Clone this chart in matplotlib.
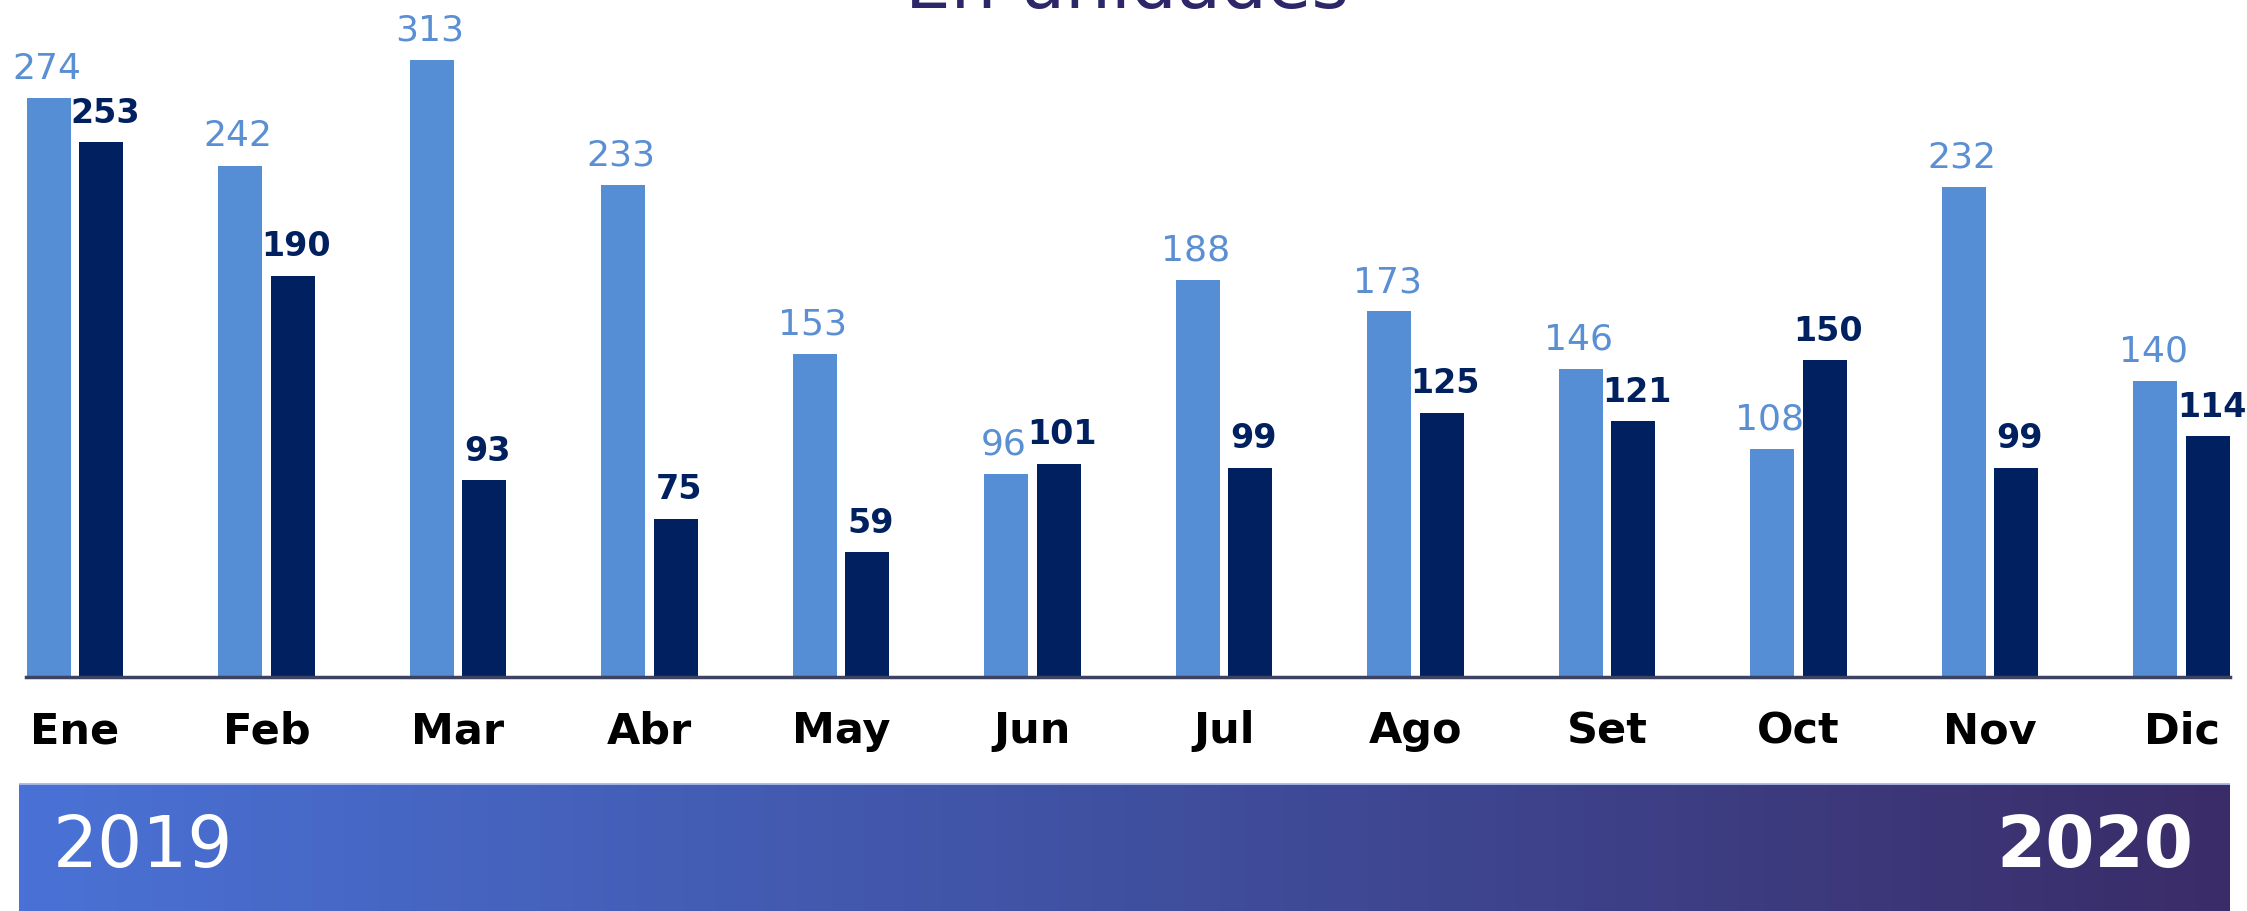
import numpy as np
import matplotlib
matplotlib.use('Agg')
import matplotlib.pyplot as plt

# data
months = ['Ene', 'Feb', 'Mar', 'Abr', 'May', 'Jun', 'Jul', 'Ago', 'Set', 'Oct', 'Nov', 'Dic']
v2019 = [274, 242, 313, 233, 153, 96, 188, 173, 146, 108, 232, 140]
v2020 = [253, 190, 93, 75, 59, 101, 99, 125, 121, 150, 99, 114]

light = '#558ed5'
dark = '#002060'
ymax = 292

W, H = 2247, 911
fig = plt.figure(figsize=(W / 100, H / 100), dpi=100)

# main bar axes
ax = fig.add_axes([26.5 / W, (H - 677) / H, (2230 - 26.5) / W, (677 - 60) / H])
x = np.arange(len(months))
bw = 0.23
off = 0.138
ax.bar(x - off, v2019, bw, color=light)
ax.bar(x + off, v2020, bw, color=dark)
ax.set_xlim(-off - bw / 2, len(months) - 1 + off + bw / 2)
ax.set_ylim(0, ymax)

for i in range(len(months)):
    ax.annotate(str(v2019[i]), (x[i] - off, min(v2019[i], ymax)),
                xytext=(-1.5, 14), textcoords='offset points',
                ha='center', va='baseline', fontsize=26, color='#5b8fd3')
    ax.annotate(str(v2020[i]), (x[i] + off, min(v2020[i], ymax)),
                xytext=(2.5, 14), textcoords='offset points',
                ha='center', va='baseline', fontsize=24, fontweight='heavy', color=dark)

for s in ['top', 'right', 'left']:
    ax.spines[s].set_visible(False)
ax.spines['bottom'].set_color('#3c4260')
ax.spines['bottom'].set_linewidth(2.5)
ax.set_yticks([])
ax.set_xticks(x)
ax.set_xticklabels(months, fontsize=31, fontweight='bold', color='black')
ax.tick_params(axis='x', length=0, pad=24)

# title (cut off at top in the original)
fig.text(1127 / W, 1 - 8 / H, 'En unidades', ha='center', va='baseline',
         fontsize=52, color='#2b2769')

# gradient banner
bax = fig.add_axes([19 / W, 0, (2230 - 19) / W, (H - 783) / H])
c0 = np.array([74, 114, 214]) / 255
c1 = np.array([64, 80, 160]) / 255
c2 = np.array([58, 44, 104]) / 255
t = np.linspace(0, 1, 400)[:, None]
grad = np.where(t < 0.5, c0 + (c1 - c0) * (t / 0.5), c1 + (c2 - c1) * ((t - 0.5) / 0.5))
bax.imshow(grad[None, :, :], aspect='auto', extent=[0, 1, 0, 1])
bax.axhline(1, color='#aebde6', lw=2)
bax.set_xlim(0, 1)
bax.set_ylim(0, 1)
bax.axis('off')
bax.text(34 / (2230 - 19), 0.5, '2019', ha='left', va='center', fontsize=51, color='white',
         transform=bax.transAxes)
bax.text(1 - 37 / (2230 - 19), 0.5, '2020', ha='right', va='center', fontsize=51,
         fontweight='bold', color='white', transform=bax.transAxes)

fig.savefig('out.png', dpi=100)
